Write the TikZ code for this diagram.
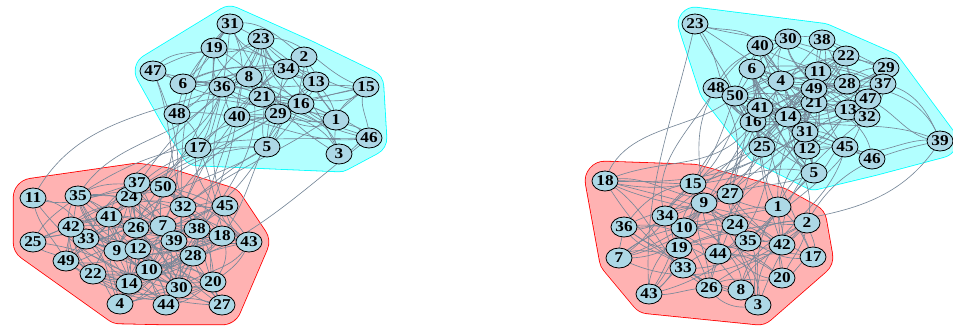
\documentclass[tikz,border=0pt]{standalone}
\usepackage{fontspec}
\setmainfont{Liberation Serif}
\newfontfamily\nodefont{Liberation Serif}[FakeStretch=1.15]
\usetikzlibrary{shapes.geometric}
\definecolor{edgec}{RGB}{119,136,153}
\definecolor{vfill}{RGB}{173,216,230}
\definecolor{cyanb}{RGB}{0,255,255}
\definecolor{cyanf}{RGB}{178,255,255}
\definecolor{redb}{RGB}{255,0,0}
\definecolor{redf}{RGB}{255,178,178}
\pgfdeclarelayer{hulls}
\pgfdeclarelayer{edges}
\pgfsetlayers{hulls,edges,main}
\tikzset{
  vert/.style={ellipse, draw=black, line width=0.8pt, fill=vfill,
    minimum width=26pt, minimum height=20pt, inner sep=0pt,
    font={\nodefont\bfseries\fontsize{15pt}{15pt}\selectfont}},
  edge/.style={draw=edgec, line width=0.65pt},
  hull/.style n args={3}{line join=round, draw=#2, fill=#2,
    line width={2*#3-1.2},
    preaction={draw=#1, line join=round, line width={2*#3+0.4}}}
}
\def\LC{1/336/120,2/304/57,3/339/154,5/267/147,6/183/84,8/249/77,13/316/82,15/366/87,16/301/104,17/198/148,19/214/48,21/262/97,23/261/39,29/278/114,31/230/24,34/286/69,36/222/87,40/237/117,46/369/138,47/153/71,48/177/114}
\def\LR{4/120/304,7/163/226,9/117/251,10/149/270,11/33/198,12/138/249,14/129/284,18/222/236,20/213/282,22/93/274,24/129/197,25/33/242,26/136/228,27/222/305,28/193/256,30/179/288,32/183/207,33/86/239,35/78/196,37/137/183,38/197/229,39/174/241,41/109/217,42/71/227,43/249/242,44/166/305,45/225/206,49/66/261,50/163/187}
\def\RC{4/781/81,5/814/173,6/752/69,11/818/72,12/807/149,13/848/110,14/788/117,16/753/122,21/814/103,22/846/56,23/695/24,25/762/147,28/847/84,29/886/68,30/788/39,31/805/132,32/867/117,37/883/84,38/822/40,39/940/141,40/760/46,41/760/108,45/845/147,46/872/159,47/868/99,48/716/88,49/814/89,50/735/96}
\def\RR{1/778/207,2/807/223,3/758/305,7/619/258,8/741/290,9/704/203,10/684/228,15/693/184,17/813/257,18/605/181,19/679/248,20/782/278,24/735/225,26/709/288,27/730/194,33/683/268,34/665/216,35/748/241,36/624/227,42/782/245,43/649/294,44/718/254}
\newcommand\curvededge[5]{% prefix, a, b, dx, dy
  \pgfmathsetmacro\ang{atan2(-(#5),#4)}
  \pgfmathsetmacro\oa{\ang+(rnd-0.5)*80}
  \pgfmathsetmacro\ia{\ang+180+(rnd-0.5)*80}
  \draw[edge] (#1#2.center) to[out=\oa,in=\ia] (#1#3.center);
}
\newcommand\withinedges[4]{%
  \foreach \a/\ax/\ay [count=\i] in #2 {
    \foreach \b/\bx/\by [count=\j] in #2 {
      \ifnum\j>\i
        \pgfmathsetmacro\pp{#3*exp(-veclen(\ax-\bx,\ay-\by)/#4)}
        \pgfmathsetmacro\rr{rnd}
        \ifdim\rr pt<\pp pt
          \curvededge{#1}{\a}{\b}{\bx-\ax}{\by-\ay}
        \fi
      \fi
    }
  }%
}
\newcommand\crossedges[5]{%
  \foreach \a/\ax/\ay in #2 {
    \foreach \b/\bx/\by in #3 {
      \pgfmathsetmacro\pp{#4*exp(-veclen(\ax-\bx,\ay-\by)/#5)}
      \pgfmathsetmacro\rr{rnd}
      \ifdim\rr pt<\pp pt
        \curvededge{#1}{\a}{\b}{\bx-\ax}{\by-\ay}
      \fi
    }
  }%
}
\begin{document}
\begin{tikzpicture}[x=1pt,y=-1pt]
\useasboundingbox (0,0) rectangle (953,327);
% nodes
\foreach \n/\x/\y in \LC {\node[vert] (L\n) at (\x,\y) {\n};}
\foreach \n/\x/\y in \LR {\node[vert] (L\n) at (\x,\y) {\n};}
\foreach \n/\x/\y in \RC {\node[vert] (R\n) at (\x,\y) {\n};}
\foreach \n/\x/\y in \RR {\node[vert] (R\n) at (\x,\y) {\n};}
% hulls
\begin{pgfonlayer}{hulls}
\path[hull={cyanb}{cyanf}{18}] (L47.center) -- (L31.center) -- (L2.center) -- (L15.center) -- (L46.center) -- (L3.center) -- (L17.center) -- (L48.center) -- cycle;
\path[hull={redb}{redf}{20}] (L11.center) -- (L37.center) -- (L50.center) -- (L45.center) -- (L43.center) -- (L27.center) -- (L44.center) -- (L4.center) -- (L25.center) -- cycle;
\path[hull={cyanb}{cyanf}{17}] (R23.center) -- (R38.center) -- (R29.center) -- (R39.center) -- (R46.center) -- (R5.center) -- (R25.center) -- (R48.center) -- cycle;
\path[hull={redb}{redf}{20}] (R18.center) -- (R15.center) -- (R1.center) -- (R2.center) -- (R17.center) -- (R3.center) -- (R43.center) -- (R7.center) -- cycle;
\end{pgfonlayer}
% edges
\begin{pgfonlayer}{edges}
\pgfmathsetseed{4242}
\withinedges{L}{\LC}{0.75}{120}
\withinedges{L}{\LR}{0.75}{120}
\crossedges{L}{\LC}{\LR}{0.2}{130}
\withinedges{R}{\RC}{0.75}{120}
\withinedges{R}{\RR}{0.75}{120}
\crossedges{R}{\RC}{\RR}{0.2}{130}
\end{pgfonlayer}
\end{tikzpicture}
\end{document}
